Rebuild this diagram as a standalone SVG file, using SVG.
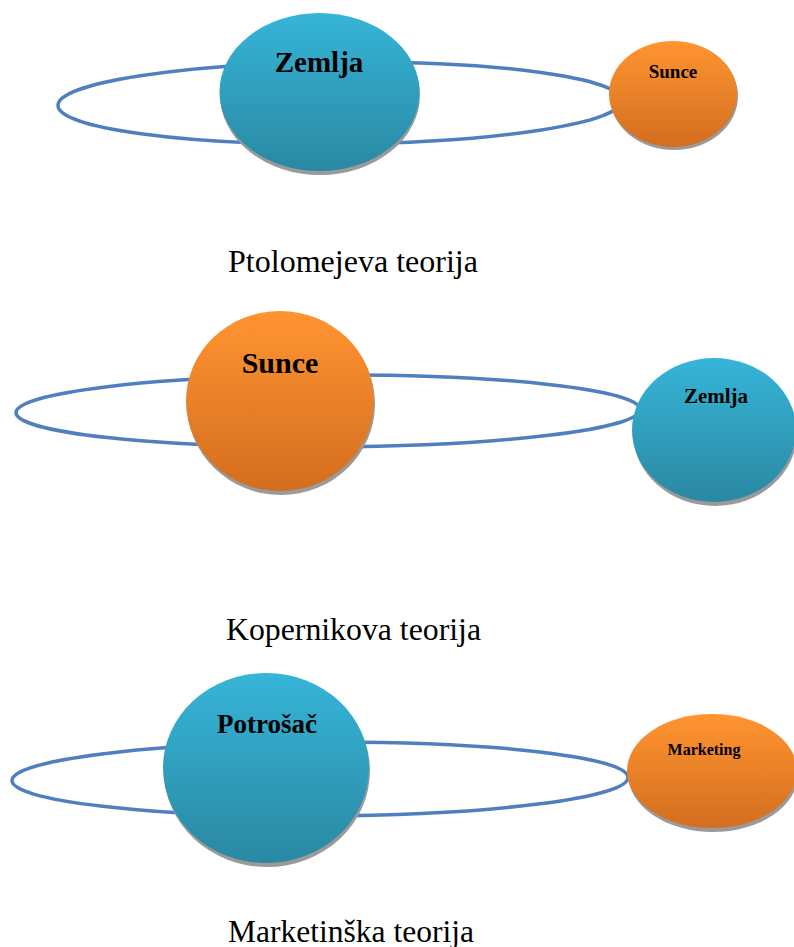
<svg xmlns="http://www.w3.org/2000/svg" width="794" height="947" viewBox="0 0 794 947">
<defs>
<linearGradient id="blue" x1="0" y1="0" x2="0" y2="1">
<stop offset="0" stop-color="#36b5d8"/>
<stop offset="1" stop-color="#2a88a2"/>
</linearGradient>
<linearGradient id="orange" x1="0" y1="0" x2="0" y2="1">
<stop offset="0" stop-color="#ff9430"/>
<stop offset="1" stop-color="#d36e20"/>
</linearGradient>
<style>
.orbit{fill:none;stroke:#4f7fbf;stroke-width:3.5}
.shadow{fill:#9a9a9a}
.b{fill:url(#blue)}
.o{fill:url(#orange)}
.t{font-family:"Liberation Serif","Times New Roman",serif;font-weight:bold;fill:#000;text-anchor:middle}
.cap{font-family:"Liberation Serif","Times New Roman",serif;font-size:31px;fill:#000}
</style>
</defs>
<g id="connectors">
<ellipse class="orbit" cx="340" cy="103" rx="282" ry="41" transform="rotate(-0.5 340 103)"/>
<ellipse class="orbit" cx="328" cy="411" rx="312" ry="36" transform="rotate(-0.3 328 411)"/>
<ellipse class="orbit" cx="320" cy="779" rx="308" ry="37" transform="rotate(-0.3 320 779)"/>
</g>
<g id="zemlja1">
<ellipse class="shadow" cx="320" cy="95" rx="100" ry="80"/>
<ellipse class="b" cx="319.5" cy="92" rx="100" ry="79"/>
<text class="t" x="319" y="72" font-size="29">Zemlja</text>
</g>
<g id="sunce1">
<ellipse class="shadow" cx="674" cy="96" rx="64" ry="54"/>
<ellipse class="o" cx="673" cy="94" rx="64" ry="53"/>
<text class="t" x="673" y="78" font-size="19">Sunce</text>
</g>
<text class="cap" x="228" y="272" textLength="250" lengthAdjust="spacingAndGlyphs">Ptolomejeva teorija</text>
<g id="sunce2">
<ellipse class="shadow" cx="281" cy="404" rx="94" ry="91"/>
<ellipse class="o" cx="280" cy="401" rx="94" ry="90"/>
<text class="t" x="280" y="373" font-size="30">Sunce</text>
</g>
<g id="zemlja2">
<ellipse class="shadow" cx="715" cy="433" rx="82" ry="73"/>
<ellipse class="b" cx="714" cy="430" rx="82" ry="72"/>
<text class="t" x="716" y="403" font-size="21">Zemlja</text>
</g>
<text class="cap" x="226" y="640" textLength="255" lengthAdjust="spacingAndGlyphs">Kopernikova teorija</text>
<g id="potrosac">
<ellipse class="shadow" cx="267" cy="771" rx="103" ry="96"/>
<ellipse class="b" cx="266" cy="768" rx="103" ry="95"/>
<text class="t" x="267" y="733" font-size="27">Potrošač</text>
</g>
<g id="marketing">
<ellipse class="shadow" cx="713" cy="774" rx="85" ry="58"/>
<ellipse class="o" cx="712" cy="771" rx="85" ry="57"/>
<text class="t" x="704" y="755" font-size="16">Marketing</text>
</g>
<text class="cap" x="228" y="942" textLength="246" lengthAdjust="spacingAndGlyphs">Marketinška teorija</text>
</svg>
